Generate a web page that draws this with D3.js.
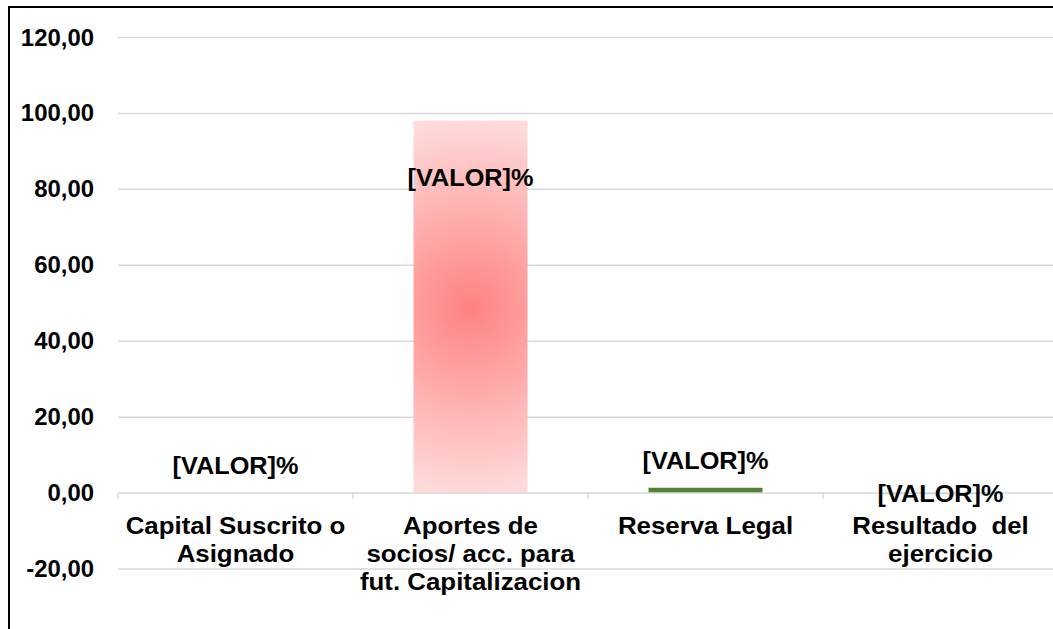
<!DOCTYPE html>
<html>
<head>
<meta charset="utf-8">
<script src="https://cdn.jsdelivr.net/npm/d3@7"></script>
<style>
  html, body { margin: 0; padding: 0; background: #fff; }
  svg { display: block; font-family: Arial, "Liberation Sans", sans-serif; }
</style>
</head>
<body>
<svg id="chart" width="1053" height="629"></svg>
<script>
// data
const categories = [
  ['Capital Suscrito o', 'Asignado'],
  ['Aportes de', 'socios/ acc. para', 'fut. Capitalizacion'],
  ['Reserva Legal'],
  ['Resultado  del', 'ejercicio']
]
const values = [0, 98.1, 1.4, -0.3]
const labels = ['[VALOR]%', '[VALOR]%', '[VALOR]%', '[VALOR]%']
const labelMode = ['outside', 'inside', 'outside', 'center']
const barFills = ['none', 'url(#pinkGlow)', '#548235', '#9dc3e6']
const yTicks = [-20, 0, 20, 40, 60, 80, 100, 120]

const W = 1053, H = 629
const m = {left: 118, right: -5, top: 37.5, bottom: 60}
const sx = 1.1 // text in the picture is a bit wider than plain Arial

const svg = d3.select('#chart')

const x = d3.scaleBand()
  .domain(d3.range(categories.length))
  .range([m.left, W - m.right])
  .paddingInner(0.515).paddingOuter(0.2575)

const y = d3.scaleLinear()
  .domain([-20, 120])
  .range([569, m.top])

const step = x.step()
const fmt = v => d3.format('.2f')(v).replace('.', ',').replace('\u2212', '-')

// glow from the middle of the big bar, fading mostly up and down
const gi = values.indexOf(d3.max(values))
const defs = svg.append('defs')
const grad = defs.append('radialGradient')
  .attr('id', 'pinkGlow')
  .attr('gradientUnits', 'userSpaceOnUse')
  .attr('cx', x(gi) + x.bandwidth() / 2)
  .attr('cy', (y(values[gi]) + y(0)) / 2)
  .attr('r', (y(0) - y(values[gi])) / 2)
grad.append('stop').attr('offset', '0%').attr('stop-color', '#ff8282')
grad.append('stop').attr('offset', '100%').attr('stop-color', '#ffdada')

// gridlines
svg.append('g')
  .selectAll('line')
  .data(yTicks.filter(t => t !== 0))
  .join('line')
    .attr('x1', m.left).attr('x2', W)
    .attr('y1', d => y(d)).attr('y2', d => y(d))
    .attr('stroke', '#d9d9d9')
    .attr('stroke-width', 1.5)

// tick labels
svg.append('g')
  .selectAll('text')
  .data(yTicks)
  .join('text')
    .attr('transform', d => `translate(94,${y(d) + 8}) scale(1.04,1)`)
    .attr('text-anchor', 'end')
    .attr('font-size', 23)
    .attr('font-weight', 'bold')
    .attr('fill', '#000')
    .text(fmt)

// bars
svg.append('g')
  .selectAll('rect')
  .data(values)
  .join('rect')
    .attr('x', (d, i) => x(i))
    .attr('width', x.bandwidth())
    .attr('y', d => y(Math.max(0, d)))
    .attr('height', d => Math.abs(y(d) - y(0)))
    .attr('fill', (d, i) => barFills[i])

// zero axis + category ticks
svg.append('line')
  .attr('x1', m.left).attr('x2', W)
  .attr('y1', y(0)).attr('y2', y(0))
  .attr('stroke', '#d9d9d9')
  .attr('stroke-width', 1.5)
svg.append('g')
  .selectAll('line')
  .data(d3.range(categories.length))
  .join('line')
    .attr('x1', d => m.left + d * step).attr('x2', d => m.left + d * step)
    .attr('y1', y(0)).attr('y2', y(0) + 6)
    .attr('stroke', '#d9d9d9')
    .attr('stroke-width', 1.5)

// category labels
const cat = svg.append('g')
  .selectAll('text')
  .data(categories)
  .join('text')
    .attr('transform', (d, i) => `translate(${x(i) + x.bandwidth() / 2},534) scale(${sx},1)`)
    .attr('text-anchor', 'middle')
    .attr('font-size', 23.5)
    .attr('font-weight', 'bold')
    .attr('fill', '#000')
    .style('white-space', 'pre')
cat.selectAll('tspan')
  .data(d => d)
  .join('tspan')
    .attr('x', 0)
    .attr('dy', (d, i) => i ? 28 : 0)
    .text(d => d)

// value labels
function labelY(v, mode){
  if (mode === 'inside') return y(v) + 65
  if (mode === 'center') return y(v) + 8
  return y(Math.max(0, v)) - 19
}
svg.append('g')
  .selectAll('text')
  .data(values)
  .join('text')
    .attr('transform', (d, i) => `translate(${x(i) + x.bandwidth() / 2},${labelY(d, labelMode[i])}) scale(${sx},1)`)
    .attr('text-anchor', 'middle')
    .attr('font-size', 23)
    .attr('font-weight', 'bold')
    .attr('fill', '#000')
    .text((d, i) => labels[i])

// chart frame, runs off the right and bottom edge
svg.append('rect')
  .attr('x', 9).attr('y', 7)
  .attr('width', W + 10).attr('height', H + 10)
  .attr('fill', 'none')
  .attr('stroke', '#000')
  .attr('stroke-width', 2)
</script>
</body>
</html>
